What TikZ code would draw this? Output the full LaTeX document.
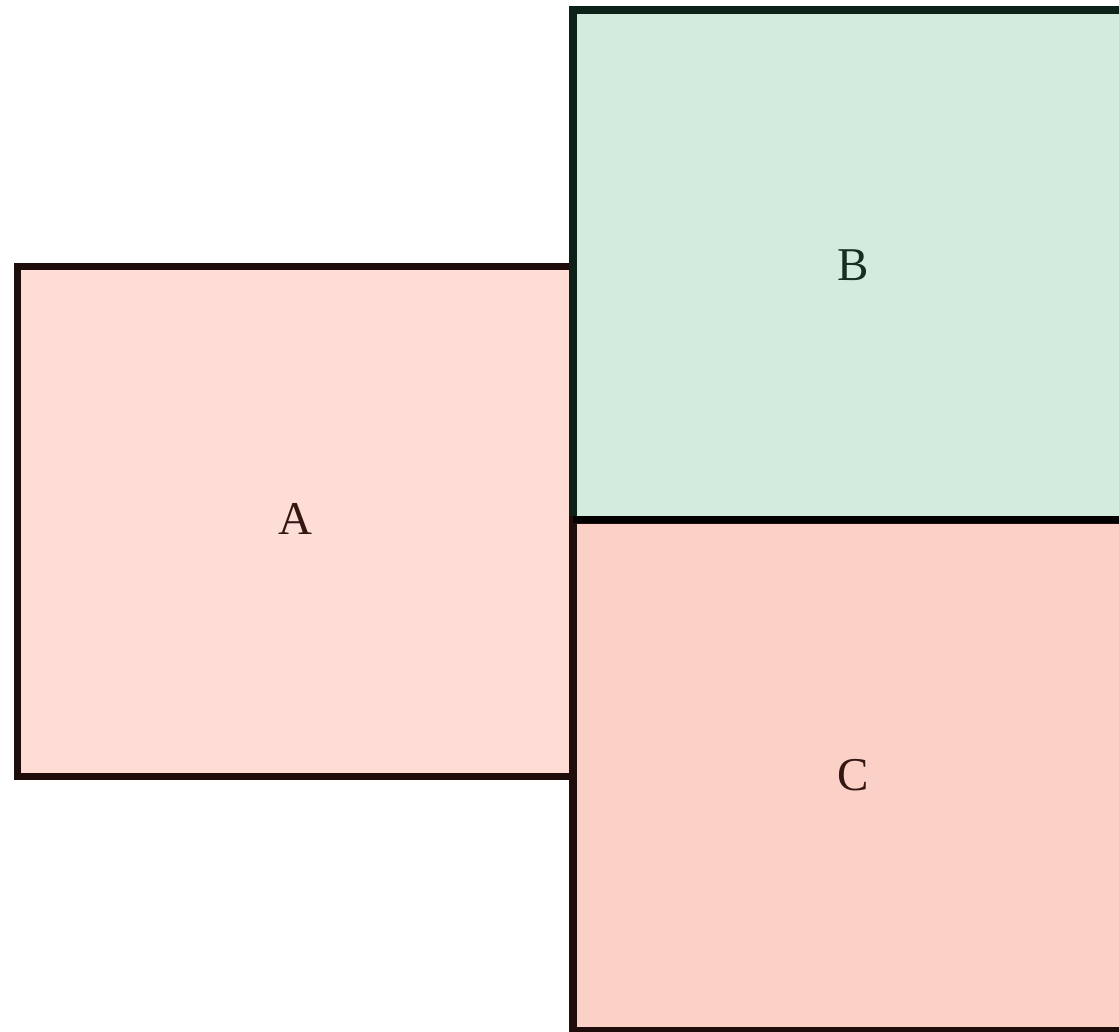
\documentclass[tikz,border=0pt]{standalone}
\usepackage{fontspec}
\setmainfont{Liberation Serif}
\definecolor{fillA}{HTML}{FDDDD6}
\definecolor{fillB}{HTML}{D3EBDD}
\definecolor{fillC}{HTML}{FBD0C7}
\definecolor{edgeR}{HTML}{1E0D0A}
\definecolor{edgeG}{HTML}{0C2218}
\definecolor{textR}{HTML}{341612}
\definecolor{textG}{HTML}{142E22}
\begin{document}
\begin{tikzpicture}[x=1pt,y=-1pt,
  lbl/.style={font=\fontsize{47}{56}\selectfont}]
\useasboundingbox (0,0) rectangle (1119,1031);
\begin{scope}
\clip (0,0) rectangle (1119,1031);
\draw[line width=7pt,draw=edgeR,fill=fillA] (17.5,266.5) rectangle (573,776);
\draw[line width=8pt,draw=edgeG,fill=fillB] (573,10) rectangle (1133,519.5);
\draw[line width=8pt,draw=edgeR,fill=fillC] (573,519.5) rectangle (1133,1031);
\draw[line width=7pt,draw=black] (573,519.5) -- (1133,519.5);
\end{scope}
\node[lbl,text=textR] (A) at (295,519) {A};
\node[lbl,text=textG] (B) at (853,265) {B};
\node[lbl,text=textR] (C) at (853,775) {C};
\end{tikzpicture}
\end{document}
